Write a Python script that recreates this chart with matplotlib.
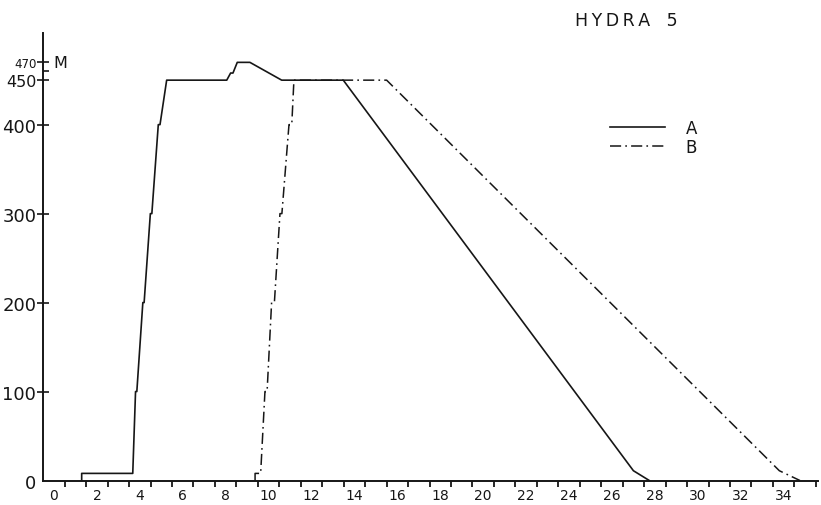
import matplotlib
matplotlib.use("Agg")
import matplotlib.pyplot as plt
import numpy as np

plt.rcParams['font.family'] = ['DejaVu Sans']
plt.rcParams['lines.scale_dashes'] = False

INK = '#161616'

# depth (M) against time for the two runs
a_time = [1.29, 1.29, 3.67, 3.80, 3.86, 4.14, 4.20, 4.49, 4.56, 4.86, 4.94, 5.25,
          8.05, 8.23, 8.34, 8.54, 9.13, 10.61, 13.48, 27.0, 27.74]
a_depth = [0, 8, 8, 100, 100, 200, 200, 300, 300, 400, 400, 450,
           450, 458, 458, 470, 470, 450, 450, 11, 0]

b_time = [9.37, 9.37, 9.63, 9.83, 9.93, 10.14, 10.27, 10.53, 10.62, 10.95, 11.08, 11.18,
          15.5, 33.8, 34.76]
b_depth = [0, 8, 8, 100, 100, 200, 200, 300, 300, 400, 400, 450,
           450, 11, 0]

x_labels = list(range(0, 36, 2))
y_ticks = [0, 100, 200, 300, 400, 450, 470]
y_labels = ['0', '100', '200', '300', '400', '450', '470']

fig = plt.figure(figsize=(8.21, 5.06), dpi=100)
ax = fig.add_axes([0.0527, 0.0484, 0.9436, 0.8844])

ax.plot(b_time, b_depth, color=INK, lw=1.1, ls=(0, (8, 3, 1.2, 3)), label='B', zorder=2)
ax.plot(a_time, a_depth, color=INK, lw=1.2, ls='-', label='A', zorder=3)

ax.set_xlim(-0.5, 35.6)
ax.set_ylim(0, 503)

for side in ('top', 'right'):
    ax.spines[side].set_visible(False)
for side in ('left', 'bottom'):
    ax.spines[side].set_linewidth(1.4)
    ax.spines[side].set_color(INK)

# x: numbers under the axis, tick marks every half step between them
ax.set_xticks(x_labels)
ax.set_xticklabels([str(v) for v in x_labels])
ax.set_xticks(np.arange(0.5, 35.6, 1.0), minor=True)
ax.tick_params(axis='x', which='major', length=0, pad=5.5, labelsize=10, colors=INK)
ax.tick_params(axis='x', which='minor', direction='out', length=4, width=1.3, color=INK)

ax.set_yticks(y_ticks)
ax.set_yticklabels(y_labels)
ax.set_yticks([460], minor=True)
ax.tick_params(axis='y', which='major', direction='inout', length=8, width=1.2,
               pad=1, labelsize=13, colors=INK)
ax.tick_params(axis='y', which='minor', direction='in', length=4, width=1.2, color=INK)
yt = ax.yaxis.get_major_ticks()
yt[0].tick1line.set_visible(False)
yt[-1].label1.set_fontsize(8.5)
yt[-2].label1.set_fontsize(11.5)

ax.annotate('M', xy=(0, 470), xycoords=('axes fraction', 'data'),
            xytext=(7, 0), textcoords='offset points',
            ha='left', va='center', fontsize=11.5, color=INK)

fig.text(0.700, 0.958, 'H\u2009Y\u2009D\u2009R\u2009A   5', ha='left', va='center',
         fontsize=12.5, color=INK)

handles, labels = ax.get_legend_handles_labels()
leg = ax.legend(handles[::-1], labels[::-1], loc='upper left',
                bbox_to_anchor=(0.743, 0.763), bbox_transform=fig.transFigure,
                frameon=False, fontsize=12, handlelength=3.3, handletextpad=1.25,
                labelspacing=0.05, borderpad=0, borderaxespad=0)
for t in leg.get_texts():
    t.set_color(INK)

fig.savefig('out.png', dpi=100)
